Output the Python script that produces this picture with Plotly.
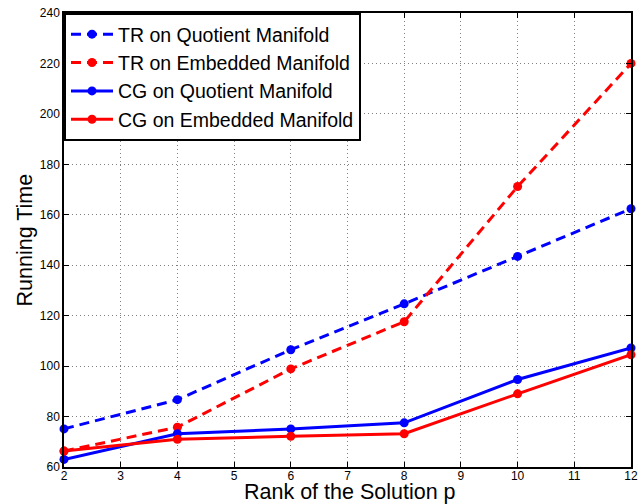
import plotly.graph_objects as go

rank = [2, 4, 6, 8, 10, 12]
tr_quotient = [75.1, 86.7, 106.5, 124.7, 143.5, 162.4]
tr_embedded = [66.3, 75.8, 98.9, 117.6, 171.2, 220.0]
cg_quotient = [63.0, 73.2, 75.1, 77.5, 94.7, 107.2]
cg_embedded = [66.3, 71.0, 72.2, 73.2, 89.0, 104.5]

names = ["TR on Quotient Manifold", "TR on Embedded Manifold",
         "CG on Quotient Manifold", "CG on Embedded Manifold"]
series = [tr_quotient, tr_embedded, cg_quotient, cg_embedded]
colors = ["#0000ff", "#ff0000", "#0000ff", "#ff0000"]
dashes = ["10px,6px", "10px,6px", "solid", "solid"]

FONT = "Liberation Sans, Arial, Helvetica, sans-serif"

fig = go.Figure()
for n, s, c, d in zip(names, series, colors, dashes):
    fig.add_trace(go.Scatter(
        x=rank, y=s, name=n, mode="lines+markers",
        line=dict(color=c, width=3, dash=d),
        marker=dict(color=c, size=9),
        cliponaxis=False,
    ))

axis_common = dict(
    showline=True, linecolor="black", linewidth=1.5, mirror="ticks",
    ticks="inside", ticklen=5, tickcolor="black", tickwidth=1,
    showgrid=True, gridcolor="#808080", gridwidth=1, griddash="1px,3px",
    zeroline=False, tickfont=dict(family=FONT, size=12, color="black"),
)

fig.update_xaxes(range=[2, 12], dtick=1, tick0=2, ticklabelstandoff=-3, **axis_common)
fig.update_yaxes(range=[60, 240], dtick=20, tick0=60, **axis_common)

fig.update_layout(
    width=644, height=504,
    margin=dict(l=64, r=6, t=10, b=37),
    paper_bgcolor="white", plot_bgcolor="white",
    font=dict(family=FONT, color="black"),
    showlegend=True,
    legend=dict(
        x=0, y=1, xanchor="left", yanchor="top",
        bgcolor="white", bordercolor="black", borderwidth=2,
        font=dict(family=FONT, size=19.5, color="black"),
        itemwidth=42, tracegroupgap=0,
    ),
    annotations=[
        dict(text="Rank of the Solution p", xref="paper", yref="paper",
             x=0.505, y=-0.055, xanchor="center", yanchor="middle",
             showarrow=False, font=dict(family=FONT, size=21.5, color="black")),
        dict(text="Running Time", xref="paper", yref="paper",
             x=-0.068, y=0.5, xanchor="center", yanchor="middle", textangle=-90,
             showarrow=False, font=dict(family=FONT, size=21.5, color="black")),
    ],
)

fig.write_html("out.html")
